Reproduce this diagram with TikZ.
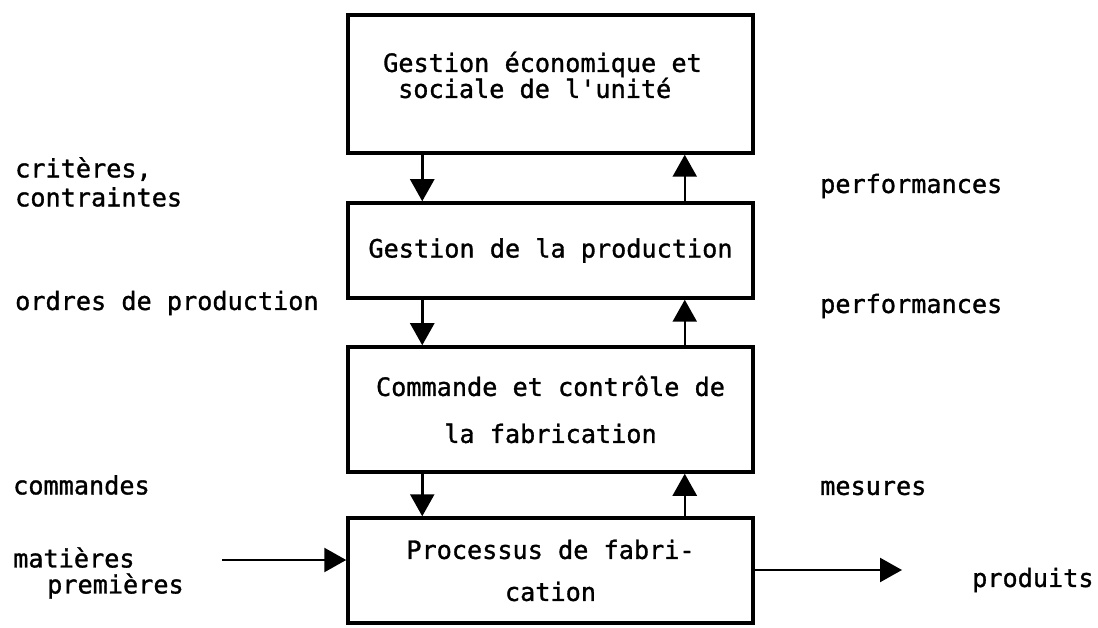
\documentclass[tikz,border=0pt]{standalone}
\usepackage{fontspec}
\setmainfont[FakeBold=1.2]{DejaVu Sans Mono}
\usetikzlibrary{arrows.meta}
\tikzset{>={Triangle[length=22pt,width=24pt]}}

\begin{document}
\begin{tikzpicture}[x=1pt,y=-1pt,
		bloc/.style={draw,line width=3.5pt,minimum width=405pt,inner sep=0pt,align=center},
		etiq/.style={anchor=west,align=left,inner sep=0pt},
		fleche/.style={line width=2.5pt,->},
		font=\fontsize{25.2}{26}\selectfont]
	\useasboundingbox (0,0) rectangle (1098,628);
	
	% les quatre niveaux
	\node[bloc,minimum height=138pt] (gestion) at (550.5,84) {};
	\node[align=left,inner sep=0pt] (gestiontxt) at ([xshift=-8pt,yshift=9pt]gestion.center) {Gestion économique et\\\hspace*{15pt}sociale de l\textquotesingle unité};
	\node[bloc,minimum height=95pt] (production) at (550.5,250.5) {Gestion de la production};
	\node[bloc,minimum height=125pt] (commande) at (550.5,409.5) {Commande et contrôle de\\[21pt]la fabrication};
	\node[bloc,minimum height=105pt] (processus) at (550.5,570.5) {Processus de fabri-\\[16pt]cation};
	
	% descendant / montant
	\draw[fleche] ([xshift=76pt]gestion.south west) -- ([xshift=76pt]production.north west);
	\draw[fleche] ([xshift=-70pt]production.north east) -- ([xshift=-70pt]gestion.south east);
	\draw[fleche] ([xshift=76pt]production.south west) -- ([xshift=76pt]commande.north west);
	\draw[fleche] ([xshift=-70pt]commande.north east) -- ([xshift=-70pt]production.south east);
	\draw[fleche] ([xshift=76pt]commande.south west) -- ([xshift=76pt]processus.north west);
	\draw[fleche] ([xshift=-70pt]processus.north east) -- ([xshift=-70pt]commande.south east);
	
	% entree et sortie
	\coordinate (entree) at (222,560);
	\coordinate (sortie) at (902,570);
	\draw[fleche] (entree) -- (entree -| processus.west);
	\draw[fleche] (sortie -| processus.east) -- (sortie);
	
	\node[etiq] (criteres) at (15,182) {critères,\\[3pt]contraintes};
	\node[etiq] (ordres) at (15,303) {ordres de production};
	\node[etiq] (commandes) at (13,485) {commandes};
	\node[etiq] (matieres) at (13,573) {matières\\\hspace*{34pt}premières};
	\node[etiq] (perfa) at (820,186) {performances};
	\node[etiq] (perfb) at (820,306) {performances};
	\node[etiq] (mesures) at (820,488) {mesures};
	\node[etiq] (produits) at (972,580) {produits};
\end{tikzpicture}
\end{document}
